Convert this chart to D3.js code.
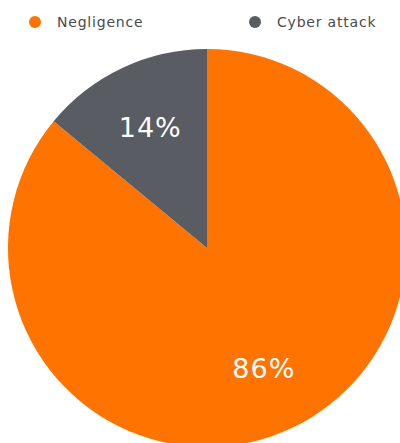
<!DOCTYPE html>
<html>
<head>
<meta charset="utf-8">
<script src="https://cdn.jsdelivr.net/npm/d3@7"></script>
<style>
  html, body { margin: 0; padding: 0; background: #ffffff; }
  svg { display: block; }
</style>
</head>
<body>
<svg id="chart" width="400" height="443"></svg>
<script>
// Share of incidents by cause
const categories = ["Negligence", "Cyber attack"];
const values = [86, 14];
const valueLabels = ["86%", "14%"];
const colors = ["#FF7300", "#595C62"];

const svg = d3.select("#chart");
const cx = 207, cy = 248, radius = 199;

// Slices run clockwise from 12 o'clock, so the small slice ends just left of the top.
const pie = d3.pie().sort(null);
const arcs = pie(values);

const arc = d3.arc().innerRadius(0).outerRadius(radius);
const labelArc = d3.arc().innerRadius(radius * 0.67).outerRadius(radius * 0.67);

const g = svg.append("g").attr("transform", `translate(${cx},${cy})`);

g.selectAll("path.slice")
  .data(arcs)
  .join("path")
  .attr("class", "slice")
  .attr("d", arc)
  .attr("fill", (d, i) => colors[i]);

g.selectAll("text.pct")
  .data(arcs)
  .join("text")
  .attr("class", "pct")
  .attr("transform", d => `translate(${labelArc.centroid(d)})`)
  .attr("text-anchor", "middle")
  .attr("dominant-baseline", "central")
  .attr("fill", "#ffffff")
  .attr("font-family", "'DejaVu Sans', Verdana, sans-serif")
  .attr("font-size", 27)
  .attr("letter-spacing", 1)
  .text((d, i) => valueLabels[i]);

// Legend along the top
const legendX = [35, 255];
const legend = svg.selectAll("g.legend")
  .data(categories)
  .join("g")
  .attr("class", "legend")
  .attr("transform", (d, i) => `translate(${legendX[i]},22)`);

legend.append("circle")
  .attr("r", 6)
  .attr("fill", (d, i) => colors[i]);

legend.append("text")
  .attr("x", 22)
  .attr("y", 0)
  .attr("dominant-baseline", "central")
  .attr("fill", "#4a4a4a")
  .attr("font-family", "'DejaVu Sans', Verdana, sans-serif")
  .attr("font-size", 14)
  .attr("letter-spacing", 0.8)
  .text(d => d);
</script>
</body>
</html>
